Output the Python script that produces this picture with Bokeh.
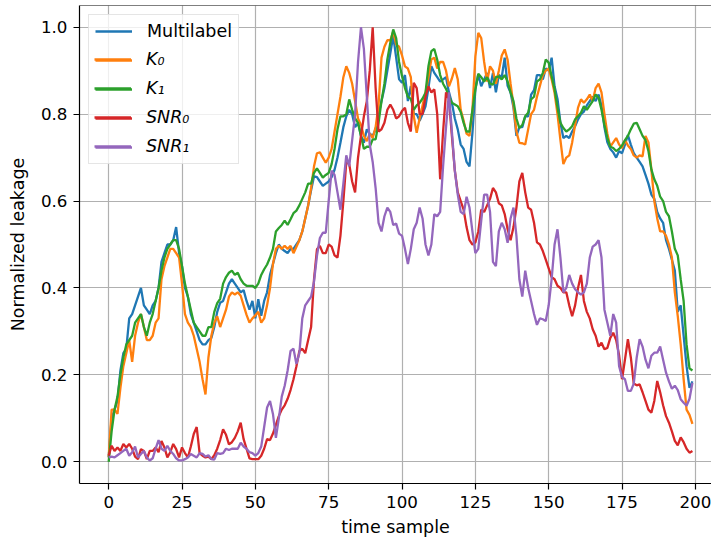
from bokeh.plotting import figure
from bokeh.models import Range1d, Legend, LegendItem, Span, FixedTicker, PrintfTickFormatter
from bokeh.core.properties import value
from bokeh.embed import file_html
from bokeh.resources import INLINE

# ---- data -------------------------------------------------------------
samples = list(range(200))

multilabel = [
    0.01, 0.10, 0.12, 0.14, 0.21, 0.25, 0.26, 0.33, 0.34, 0.36, 0.38, 0.40, 0.36, 0.35, 0.34, 0.36, 0.37, 0.40, 0.46, 0.48,
    0.50, 0.50, 0.51, 0.54, 0.48, 0.45, 0.40, 0.38, 0.34, 0.32, 0.30, 0.28, 0.27, 0.27, 0.28,
    0.285, 0.31, 0.345, 0.366, 0.37, 0.39, 0.41, 0.42, 0.41, 0.40, 0.39, 0.395, 0.37, 0.35, 0.37, 0.33, 0.374, 0.336, 0.37,
    0.39, 0.43, 0.455, 0.48, 0.50, 0.49, 0.485, 0.48, 0.49, 0.49, 0.50, 0.51, 0.53, 0.56, 0.59,
    0.625, 0.657, 0.655, 0.645, 0.635, 0.64, 0.645, 0.655, 0.672, 0.70, 0.734, 0.77, 0.795, 0.81, 0.80, 0.77, 0.78, 0.75,
    0.734, 0.765, 0.755, 0.75, 0.765, 0.80, 0.83, 0.86, 0.90, 0.94, 0.98, 0.93, 0.88,
    0.872, 0.89, 0.83, 0.865, 0.80, 0.80, 0.785, 0.80, 0.818, 0.86, 0.91, 0.895, 0.885, 0.875, 0.88, 0.885, 0.85, 0.826,
    0.79, 0.765, 0.73, 0.72, 0.69, 0.68, 0.757, 0.857, 0.891, 0.864, 0.88, 0.895, 0.86, 0.895,
    0.85, 0.89, 0.885, 0.93, 0.865, 0.85, 0.815, 0.75, 0.77, 0.77, 0.795, 0.795, 0.845, 0.855, 0.89, 0.89, 0.88, 0.905,
    0.90, 0.93, 0.864, 0.835, 0.78, 0.745, 0.75, 0.745, 0.76, 0.772, 0.788, 0.80, 0.806, 0.82, 0.83,
    0.84, 0.83, 0.845, 0.82, 0.77, 0.735, 0.72, 0.712, 0.70, 0.715, 0.71, 0.73, 0.752, 0.73, 0.71, 0.70, 0.69, 0.68,
    0.66, 0.64, 0.615, 0.605, 0.575, 0.56, 0.55, 0.51, 0.49, 0.465, 0.44, 0.345, 0.36, 0.29, 0.22, 0.17, 0.185,
]

k0 = [
    0.01, 0.12, 0.12, 0.11, 0.17, 0.22, 0.25, 0.28, 0.23, 0.29, 0.32, 0.34, 0.31, 0.28, 0.28, 0.29, 0.32, 0.33, 0.42, 0.45,
    0.47, 0.49, 0.49, 0.48, 0.47, 0.41, 0.34, 0.32, 0.31, 0.29, 0.26, 0.23, 0.19, 0.155, 0.24,
    0.29, 0.32, 0.335, 0.31, 0.33, 0.35, 0.38, 0.39, 0.385, 0.39, 0.382, 0.36, 0.338, 0.32, 0.33, 0.337, 0.345, 0.32, 0.33,
    0.36, 0.40, 0.455, 0.49, 0.497, 0.49, 0.497, 0.49, 0.497, 0.48, 0.495, 0.51, 0.53, 0.56, 0.59,
    0.63, 0.68, 0.71, 0.712, 0.70, 0.688, 0.70, 0.72, 0.76, 0.80, 0.84, 0.885, 0.91, 0.895, 0.87, 0.83, 0.79, 0.775,
    0.75, 0.738, 0.755, 0.745, 0.77, 0.82, 0.93, 0.955, 0.97, 0.97, 0.99, 0.96, 0.955,
    0.935, 0.91, 0.905, 0.885, 0.795, 0.757, 0.79, 0.82, 0.849, 0.885, 0.926, 0.93, 0.905, 0.92, 0.92, 0.90, 0.864, 0.882,
    0.906, 0.88, 0.81, 0.785, 0.755, 0.75, 0.81, 0.933, 0.987, 0.975, 0.92, 0.875, 0.91, 0.90,
    0.87, 0.90, 0.935, 0.949, 0.925, 0.87, 0.82, 0.76, 0.734, 0.733, 0.73, 0.765, 0.80, 0.81, 0.84, 0.865, 0.89, 0.90,
    0.905, 0.88, 0.849, 0.80, 0.74, 0.685, 0.70, 0.705, 0.735, 0.775, 0.815, 0.834, 0.826, 0.834, 0.845,
    0.83, 0.86, 0.87, 0.85, 0.80, 0.755, 0.725, 0.735, 0.745, 0.73, 0.722, 0.74, 0.728, 0.72, 0.705, 0.70, 0.705, 0.703,
    0.75, 0.735, 0.673, 0.60, 0.56, 0.53, 0.53, 0.52, 0.50, 0.47, 0.39, 0.335, 0.27, 0.19, 0.12, 0.108, 0.087,
]

k1 = [
    0.0, 0.07, 0.12, 0.15, 0.20, 0.24, 0.27, 0.28, 0.29, 0.32, 0.33, 0.34, 0.31, 0.29, 0.32, 0.34, 0.37, 0.40, 0.44, 0.47,
    0.49, 0.50, 0.51, 0.51, 0.49, 0.45, 0.41, 0.38, 0.35, 0.32, 0.31, 0.30, 0.29, 0.29, 0.31,
    0.31, 0.345, 0.365, 0.375, 0.41, 0.425, 0.435, 0.44, 0.43, 0.435, 0.42, 0.41, 0.405, 0.405, 0.405, 0.40, 0.41, 0.43,
    0.443, 0.454, 0.47, 0.49, 0.53, 0.538, 0.545, 0.555, 0.545, 0.558, 0.572, 0.578, 0.59, 0.605, 0.62, 0.64,
    0.64, 0.665, 0.675, 0.665, 0.654, 0.66, 0.665, 0.685, 0.72, 0.765, 0.795, 0.795, 0.80, 0.834, 0.81, 0.79, 0.78, 0.75,
    0.72, 0.725, 0.725, 0.742, 0.742, 0.78, 0.83, 0.87, 0.926, 0.964, 0.995, 0.975, 0.92,
    0.887, 0.86, 0.84, 0.835, 0.81, 0.82, 0.826, 0.836, 0.849, 0.91, 0.945, 0.95, 0.925, 0.89, 0.87, 0.858, 0.841, 0.826,
    0.822, 0.818, 0.805, 0.78, 0.76, 0.76, 0.81, 0.857, 0.893, 0.885, 0.875, 0.885, 0.87, 0.868,
    0.885, 0.887, 0.88, 0.89, 0.875, 0.85, 0.83, 0.79, 0.768, 0.775, 0.795, 0.803, 0.834, 0.84, 0.875, 0.88, 0.895, 0.926,
    0.918, 0.887, 0.857, 0.815, 0.78, 0.768, 0.76, 0.765, 0.772, 0.788, 0.795, 0.803, 0.818, 0.81, 0.82,
    0.83, 0.845, 0.838, 0.81, 0.775, 0.745, 0.725, 0.722, 0.715, 0.72, 0.728, 0.74, 0.75, 0.765, 0.778, 0.78, 0.765, 0.75,
    0.74, 0.715, 0.673, 0.65, 0.635, 0.61, 0.60, 0.575, 0.565, 0.53, 0.49, 0.475, 0.42, 0.37, 0.27, 0.215, 0.21,
]

snr0 = [
    0.014, 0.037, 0.025, 0.033, 0.025, 0.041, 0.033, 0.041, 0.03, 0.012, 0.006, 0.029, 0.025, 0.006, 0.025, 0.025, 0.033,
    0.022, 0.048, 0.033, 0.01, 0.022, 0.041, 0.029, 0.01, 0.033, 0.02, 0.01, 0.035, 0.064, 0.08, 0.02, 0.014, 0.01, 0.012,
    0.006, 0.015, 0.03, 0.05, 0.075, 0.062, 0.04, 0.045, 0.055, 0.07, 0.09, 0.052, 0.03, 0.008, 0.006, 0.006, 0.006, 0.014,
    0.03, 0.052, 0.05, 0.065, 0.085, 0.105, 0.12, 0.13, 0.145, 0.165, 0.19, 0.22, 0.255, 0.26, 0.25, 0.28,
    0.31, 0.42, 0.489, 0.497, 0.48, 0.48, 0.50, 0.495, 0.475, 0.47, 0.52, 0.60, 0.69, 0.685, 0.645, 0.62, 0.70, 0.75,
    0.795, 0.83, 0.90, 1.0, 0.86, 0.76, 0.765, 0.78, 0.81, 0.822, 0.81, 0.79, 0.795,
    0.807, 0.815, 0.78, 0.76, 0.872, 0.86, 0.80, 0.80, 0.84, 0.864, 0.85, 0.857, 0.80, 0.65, 0.76, 0.85, 0.834, 0.75,
    0.67, 0.62, 0.60, 0.58, 0.54, 0.51, 0.50, 0.505, 0.53, 0.58, 0.575, 0.59, 0.605, 0.63,
    0.62, 0.595, 0.59, 0.57, 0.535, 0.51, 0.54, 0.585, 0.645, 0.665, 0.62, 0.585, 0.58, 0.55, 0.505, 0.50, 0.485, 0.465,
    0.445, 0.425, 0.42, 0.405, 0.40, 0.39, 0.39, 0.36, 0.335, 0.36, 0.40, 0.43, 0.37, 0.345, 0.33,
    0.305, 0.29, 0.265, 0.274, 0.259, 0.262, 0.285, 0.297, 0.28, 0.245, 0.19, 0.235, 0.282, 0.24, 0.18, 0.176, 0.178, 0.16,
    0.14, 0.12, 0.113, 0.14, 0.186, 0.16, 0.13, 0.105, 0.09, 0.07, 0.048, 0.038, 0.056, 0.045, 0.03, 0.021, 0.025,
]

snr1 = [
    0.01, 0.012, 0.01, 0.015, 0.02, 0.025, 0.03, 0.014, 0.022, 0.035, 0.01, 0.018, 0.025, 0.01, 0.003, 0.008, 0.03, 0.05,
    0.03, 0.025, 0.037, 0.025, 0.018, 0.008, 0.003, 0.003, 0.006, 0.01, 0.018, 0.014, 0.01, 0.02, 0.018, 0.012, 0.015,
    0.006, 0.005, 0.02, 0.018, 0.02, 0.03, 0.027, 0.03, 0.03, 0.03, 0.044, 0.035, 0.03, 0.022, 0.02, 0.014, 0.02, 0.035,
    0.08, 0.125, 0.14, 0.11, 0.055, 0.10, 0.15, 0.175, 0.21, 0.255, 0.26, 0.225, 0.25, 0.33, 0.36, 0.37,
    0.38, 0.415, 0.474, 0.515, 0.527, 0.527, 0.60, 0.67, 0.66, 0.62, 0.58, 0.64, 0.705, 0.68, 0.74, 0.80, 0.92, 1.0,
    0.95, 0.84, 0.73, 0.69, 0.63, 0.55, 0.53, 0.565, 0.585, 0.575, 0.545, 0.548, 0.525,
    0.52, 0.49, 0.455, 0.49, 0.535, 0.55, 0.585, 0.56, 0.50, 0.475, 0.50, 0.57, 0.565, 0.575, 0.68, 0.77, 0.85, 0.76,
    0.67, 0.615, 0.575, 0.57, 0.61, 0.585, 0.53, 0.48, 0.49, 0.555, 0.615, 0.615, 0.575, 0.46,
    0.45, 0.53, 0.55, 0.535, 0.504, 0.56, 0.585, 0.52, 0.42, 0.38, 0.44, 0.40, 0.37, 0.34, 0.315, 0.33, 0.328, 0.324,
    0.36, 0.42, 0.50, 0.535, 0.47, 0.39, 0.40, 0.43, 0.41, 0.397, 0.39, 0.385, 0.39, 0.41, 0.47,
    0.495, 0.50, 0.51, 0.47, 0.35, 0.32, 0.29, 0.34, 0.32, 0.22, 0.195, 0.19, 0.163, 0.163, 0.18, 0.24, 0.282, 0.265,
    0.235, 0.215, 0.244, 0.251, 0.251, 0.265, 0.235, 0.205, 0.185, 0.168, 0.175, 0.165, 0.144, 0.136, 0.129, 0.145, 0.182,
]

x_ticks = [0, 25, 50, 75, 100, 125, 150, 175, 200]
y_ticks = [0.0, 0.2, 0.4, 0.6, 0.8, 1.0]

series = [
    ("Multilabel", multilabel, "#1f77b4"),
    ("K\u2080", k0, "#ff7f0e"),
    ("K\u2081", k1, "#2ca02c"),
    ("SNR\u2080", snr0, "#d62728"),
    ("SNR\u2081", snr1, "#9467bd"),
]

FONT = "DejaVu Sans"
TICK_FS = "16.7px"
LABEL_FS = "17.5px"

# ---- figure -----------------------------------------------------------
p = figure(
    width=711, height=542,
    output_backend="svg", toolbar_location=None,
    x_range=Range1d(-9.95, 205.5), y_range=Range1d(-0.05, 1.05),
    min_border_left=79, min_border_right=0, min_border_top=5, min_border_bottom=59,
)
p.outline_line_color = None
p.background_fill_color = "white"
p.border_fill_color = "white"

renderers = []
for name, vals, color in series:
    r = p.line(samples, vals, line_color=color, line_width=2.3)
    renderers.append(r)

# top edge of the axes box
p.add_layout(Span(location=1.05, dimension="width", line_color="black", line_width=1.2))

# ---- axes -------------------------------------------------------------
for ax in (p.xaxis[0], p.yaxis[0]):
    ax.axis_line_color = "black"
    ax.axis_line_width = 1.2
    ax.major_tick_line_color = "black"
    ax.major_tick_line_width = 1.2
    ax.major_tick_out = 6
    ax.major_tick_in = 0
    ax.minor_tick_line_color = None
    ax.major_label_standoff = 6
    ax.major_label_text_font = FONT
    ax.major_label_text_font_size = TICK_FS
    ax.major_label_text_color = "black"
    ax.axis_label_text_font = FONT
    ax.axis_label_text_font_size = LABEL_FS
    ax.axis_label_text_font_style = "normal"
    ax.axis_label_text_color = "black"

p.xaxis.ticker = FixedTicker(ticks=x_ticks)
p.yaxis.ticker = FixedTicker(ticks=y_ticks)
p.yaxis.formatter = PrintfTickFormatter(format="%.1f")
p.xaxis.axis_label = "time sample"
p.yaxis.axis_label = "Normalized leakage"
p.xaxis.axis_label_standoff = 6
p.yaxis.axis_label_standoff = 10

p.xgrid.ticker = FixedTicker(ticks=x_ticks)
p.ygrid.ticker = FixedTicker(ticks=y_ticks)
for g in (p.xgrid[0], p.ygrid[0]):
    g.grid_line_color = "#b0b0b0"
    g.grid_line_width = 1.2

# ---- legend -----------------------------------------------------------
# Two stacked legends share one box: upright label for the first entry,
# italic labels for the variable names below it.
blank = p.line(x=[], y=[], line_alpha=0)

common = dict(
    location="top_left", margin=9, padding=6, spacing=9,
    glyph_width=37, glyph_height=20, label_height=20, label_standoff=15,
    label_text_font=FONT, label_text_font_size=LABEL_FS, label_text_color="black",
)

items_a = [LegendItem(label=value(series[0][0]), renderers=[renderers[0]])]
items_a += [LegendItem(label=value(" "), renderers=[r]) for r in renderers[1:]]
legend_a = Legend(
    items=items_a,
    border_line_color="#cccccc", border_line_width=1.2,
    background_fill_color="white", background_fill_alpha=0.8,
    **common,
)

items_b = [LegendItem(label=value(" "), renderers=[blank])]
items_b += [LegendItem(label=value(s[0]), renderers=[r]) for s, r in zip(series[1:], renderers[1:])]
legend_b = Legend(
    items=items_b,
    label_text_font_style="italic",
    border_line_alpha=0, background_fill_alpha=0,
    **common,
)

p.add_layout(legend_a)
p.add_layout(legend_b)

open("out.html", "w").write(file_html(p, INLINE))
